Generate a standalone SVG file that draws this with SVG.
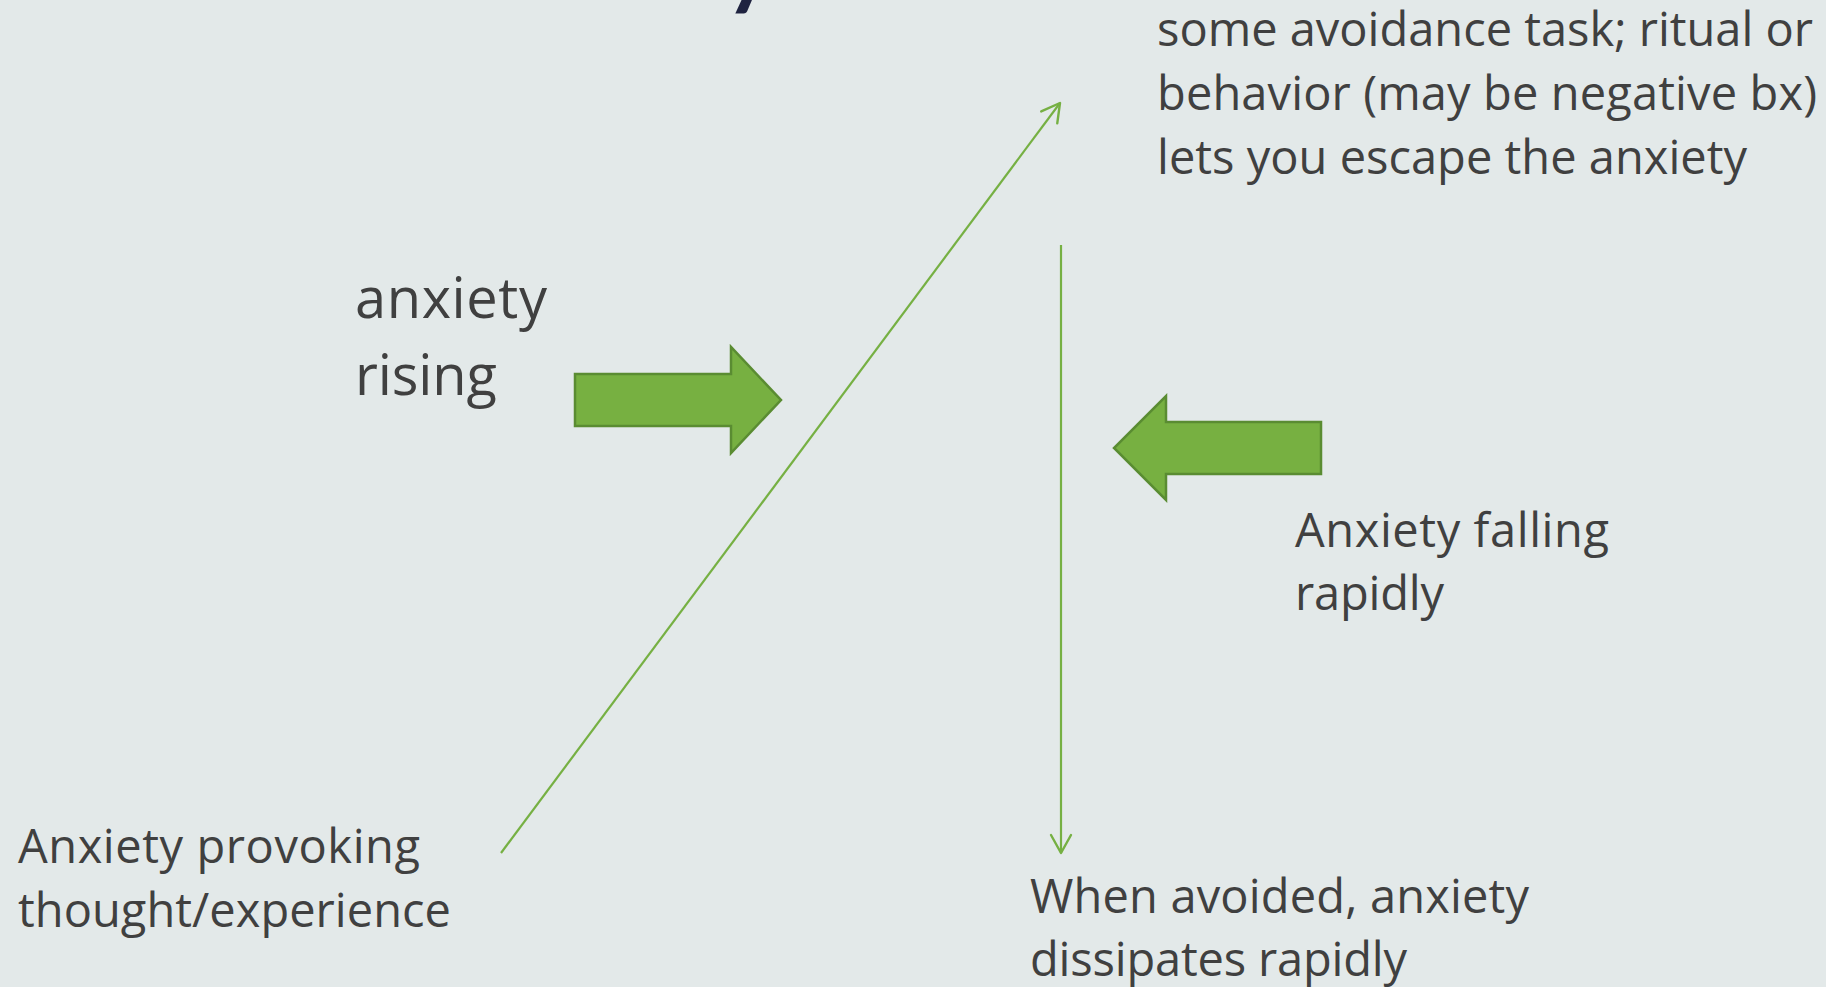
<svg xmlns="http://www.w3.org/2000/svg" width="1826" height="987" viewBox="0 0 1826 987">
  <style>
    .t { font-family: "Open Sans", "Noto Sans", sans-serif; fill: #404040; }
    .t47 { font-size: 47px; }
    .t56 { font-size: 56px; }
    .title { font-family: Lato, "Open Sans", sans-serif; font-weight: 700; font-size: 90px; fill: #1f2340; }
    .block { fill: #77b041; stroke: #5a8c32; stroke-width: 2.5; stroke-linejoin: miter; }
    .conn { stroke: #76b043; stroke-width: 2.2; fill: none; }
  </style>
  <defs>
    <marker id="open" viewBox="0 0 24 24" refX="22" refY="12" markerWidth="24" markerHeight="24" markerUnits="userSpaceOnUse" orient="auto">
      <path d="M4,2 L22,12 L4,22" fill="none" stroke="#76b043" stroke-width="2.4" stroke-linecap="round" stroke-linejoin="round"/>
    </marker>
  </defs>
  <rect x="0" y="0" width="1826" height="987" fill="#e3e9e9"/>

  <g id="title-fragment">
    <text class="title" x="725" y="-2">y</text>
  </g>

  <g id="connectors">
    <line class="conn" x1="501" y1="853" x2="1060" y2="103" marker-end="url(#open)"/>
    <line class="conn" x1="1061" y1="245" x2="1061" y2="853" marker-end="url(#open)"/>
  </g>

  <g id="arrow-rising">
    <polygon class="block" points="575,374 731,374 731,347 781,400 731,453 731,426 575,426"/>
  </g>
  <g id="arrow-falling">
    <polygon class="block" points="1321,422 1166,422 1166,396 1114,448 1166,500 1166,474 1321,474"/>
  </g>

  <g id="label-avoidance">
    <text class="t t47" x="1157" y="46" textLength="656">some avoidance task; ritual or</text>
    <text class="t t47" x="1157" y="110" textLength="660">behavior (may be negative bx)</text>
    <text class="t t47" x="1157" y="174" textLength="590">lets you escape the anxiety</text>
  </g>
  <g id="label-rising">
    <text class="t t56" x="355" y="318" textLength="192">anxiety</text>
    <text class="t t56" x="355" y="395" textLength="142">rising</text>
  </g>
  <g id="label-falling">
    <text class="t t47" x="1295" y="547" textLength="314">Anxiety falling</text>
    <text class="t t47" x="1295" y="610" textLength="149">rapidly</text>
  </g>
  <g id="label-provoking">
    <text class="t t47" x="18" y="863" textLength="402">Anxiety provoking</text>
    <text class="t t47" x="18" y="927" textLength="433">thought/experience</text>
  </g>
  <g id="label-dissipates">
    <text class="t t47" x="1030" y="913" textLength="499">When avoided, anxiety</text>
    <text class="t t47" x="1030" y="976" textLength="377">dissipates rapidly</text>
  </g>
</svg>
